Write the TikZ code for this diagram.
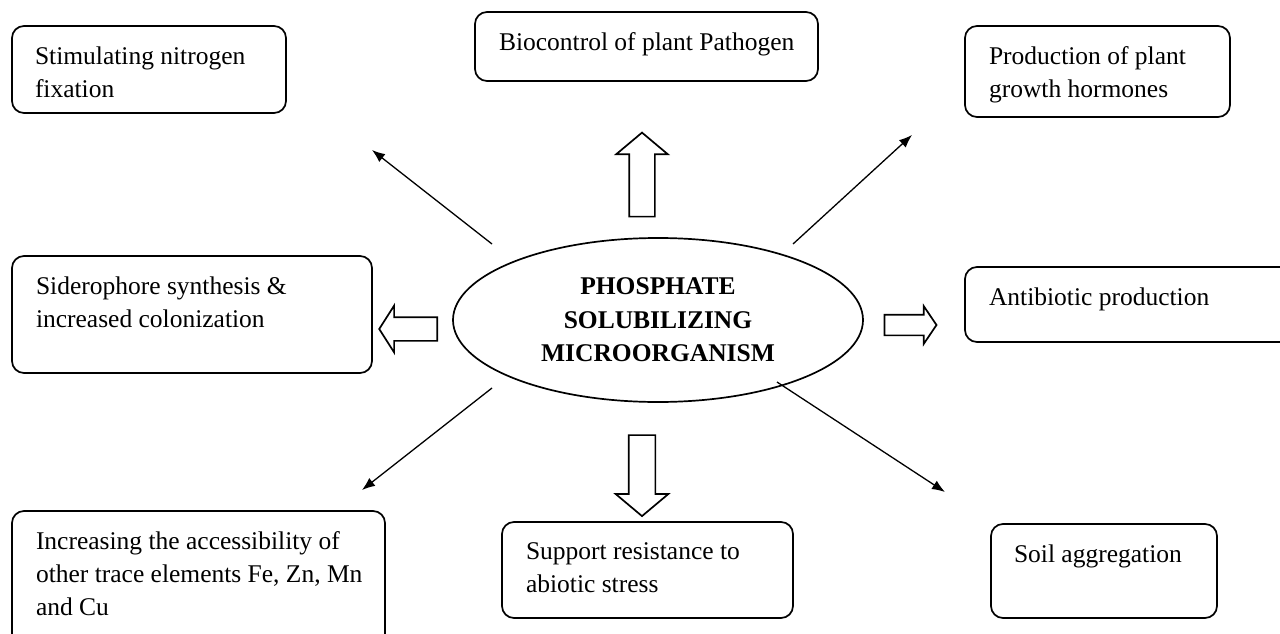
\documentclass[tikz,border=0pt]{standalone}
\usepackage{fontspec}
\setmainfont{Liberation Serif}
\usetikzlibrary{shapes.geometric,shapes.arrows,arrows.meta}

\begin{document}
\begin{tikzpicture}[x=1pt, y=-1pt, line width=1.7pt,
    box/.style={draw, rounded corners=12pt, inner sep=0pt},
    txt/.style={anchor=north west, inner sep=0pt, align=left, font=\fontsize{25.5}{33}\selectfont},
    thinarrow/.style={line width=1.3pt, -{Latex[length=13pt,width=10pt]}},
    fatarrow/.style={draw, single arrow, single arrow head indent=0pt, line width=1.7pt}]
    \useasboundingbox (0,0) rectangle (1280,634);
    % centre
    \node[ellipse, draw, minimum width=410, minimum height=164, align=center,
        font=\bfseries\fontsize{25.5}{33.5}\selectfont] (psm) at (658,320)
        {PHOSPHATE\\SOLUBILIZING\\MICROORGANISM};
    % boxes
    \node[box, minimum width=274, minimum height=87] (nit) at (149,69.5) {};
    \node[txt] at ([shift={(23,21)}]nit.north west) {Stimulating nitrogen\\fixation};
    \node[box, minimum width=343, minimum height=69] (bio) at (646.5,46.5) {};
    \node[txt] at ([shift={(24,21)}]bio.north west) {Biocontrol of plant Pathogen};
    \node[box, minimum width=265, minimum height=91] (hor) at (1097.5,71.5) {};
    \node[txt] at ([shift={(24,21)}]hor.north west) {Production of plant\\growth hormones};
    \node[box, minimum width=360, minimum height=117] (sid) at (192,314.5) {};
    \node[txt] at ([shift={(24,21)}]sid.north west) {Siderophore synthesis \&\\increased colonization};
    \node[box, minimum width=335, minimum height=75] (ant) at (1132.5,304.5) {};
    \node[txt] at ([shift={(24,21)}]ant.north west) {Antibiotic production};
    \node[box, minimum width=373, minimum height=139] (acc) at (198.5,580.5) {};
    \node[txt] at ([shift={(24,21)}]acc.north west) {Increasing the accessibility of\\other trace elements Fe, Zn, Mn\\and Cu};
    \node[box, minimum width=291, minimum height=96] (sup) at (647.5,570) {};
    \node[txt] at ([shift={(24,21)}]sup.north west) {Support resistance to\\abiotic stress};
    \node[box, minimum width=226, minimum height=94] (soil) at (1104,571) {};
    \node[txt] at ([shift={(23,21)}]soil.north west) {Soil aggregation};
    % thin arrows
    \coordinate (nitS) at (492,244);  \coordinate (nitE) at (372,150);
    \coordinate (horS) at (793,244);  \coordinate (horE) at (912,135);
    \coordinate (accS) at (492,388);  \coordinate (accE) at (362,490);
    \coordinate (soilS) at (777,382); \coordinate (soilE) at (945,492);
    \draw[thinarrow] (nitS) -- (nitE);
    \draw[thinarrow] (horS) -- (horE);
    \draw[thinarrow] (accS) -- (accE);
    \draw[thinarrow] (soilS) -- (soilE);
    % block arrows
    \node[fatarrow, shape border rotate=90, minimum height=84, inner sep=12pt,
        single arrow head extend=13pt, single arrow tip angle=100] (up) at (642,180) {};
    \node[fatarrow, shape border rotate=270, minimum height=81, inner sep=12.5pt,
        single arrow head extend=13pt, single arrow tip angle=100] (down) at (642,470) {};
    \node[fatarrow, shape border rotate=180, minimum height=58, inner sep=11pt,
        single arrow head extend=11.5pt, single arrow tip angle=115] (left) at (412,329) {};
    \node[fatarrow, minimum height=52, inner sep=9.5pt,
        single arrow head extend=8.5pt, single arrow tip angle=112] (right) at (907,325) {};
\end{tikzpicture}
\end{document}
